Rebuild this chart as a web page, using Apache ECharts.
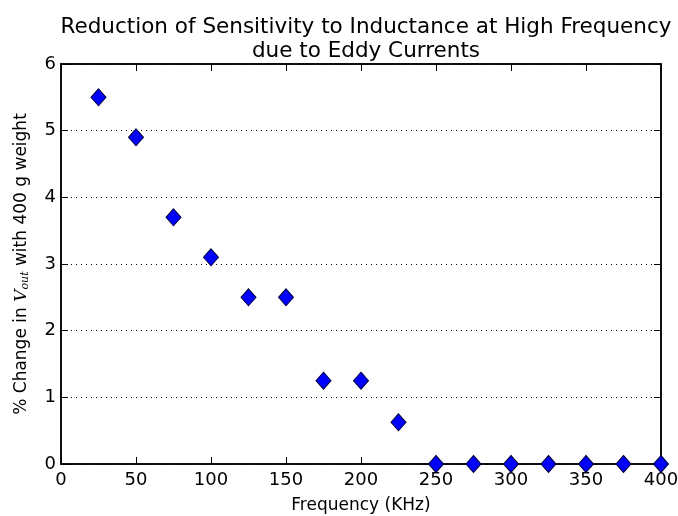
<!DOCTYPE html>
<html>
<head>
<meta charset="utf-8">
<script src="https://cdn.jsdelivr.net/npm/echarts@6/dist/echarts.min.js"></script>
<style>
  html, body { margin: 0; padding: 0; background: #fff; }
  #main { width: 678px; height: 516px; }
</style>
</head>
<body>
<div id="main"></div>
<script>
// data
var freq = [25, 50, 75, 100, 125, 150, 175, 200, 225, 250, 275, 300, 325, 350, 375, 400];
var change = [5.5, 4.9, 3.7, 3.1, 2.5, 2.5, 1.25, 1.25, 0.625, 0, 0, 0, 0, 0, 0, 0];

var font = 'DejaVu Sans';
var chart = echarts.init(document.getElementById('main'));

var points = freq.map(function (f, i) { return [f, change[i]]; });

function tick() {
  return { show: true, inside: true, length: 7, lineStyle: { color: '#000', width: 1 } };
}

var option = {
  backgroundColor: '#fff',
  animation: false,
  textStyle: { fontFamily: font },
  title: {
    text: 'Reduction of Sensitivity to Inductance at High Frequency\ndue to Eddy Currents',
    left: 361,
    top: 10,
    textAlign: 'center',
    textStyle: { fontFamily: font, fontSize: 21.5, fontWeight: 'normal', color: '#000', lineHeight: 24 }
  },
  grid: {
    left: 61, right: 17, top: 64, bottom: 52,
    outerBoundsMode: 'none',
    containLabel: false,
    show: true, borderColor: '#000', borderWidth: 1.5, backgroundColor: 'transparent'
  },
  xAxis: [{
    type: 'value',
    min: 0, max: 400, interval: 50,
    name: 'Frequency (KHz)',
    nameLocation: 'middle',
    nameGap: 33,
    nameTextStyle: { fontFamily: font, fontSize: 17, color: '#000' },
    axisLine: { lineStyle: { color: '#000', width: 1.5 } },
    axisTick: tick(),
    axisLabel: { fontFamily: font, fontSize: 18, color: '#000', margin: 7 },
    splitLine: { show: false }
  }, {
    type: 'value',
    position: 'top',
    min: 0, max: 400, interval: 50,
    axisLine: { show: true, onZero: false, lineStyle: { color: '#000', width: 1.5 } },
    axisTick: tick(),
    axisLabel: { show: false },
    splitLine: { show: false }
  }],
  yAxis: [{
    type: 'value',
    min: 0, max: 6, interval: 1,
    name: '{a|% Change in }{v|V}{s|out}{a| with 400 g weight}',
    nameLocation: 'middle',
    nameRotate: 90,
    nameGap: 30,
    nameTextStyle: {
      color: '#000',
      rich: {
        a: { fontFamily: font, fontSize: 17, color: '#000' },
        v: { fontFamily: 'DejaVu Serif', fontStyle: 'italic', fontSize: 17, color: '#000' },
        s: { fontFamily: 'DejaVu Serif', fontStyle: 'italic', fontSize: 11, color: '#000', verticalAlign: 'bottom', padding: [7, 0, 0, 0] }
      }
    },
    axisLine: { show: true, lineStyle: { color: '#000', width: 1.5 } },
    axisTick: tick(),
    axisLabel: { fontFamily: font, fontSize: 18, color: '#000', margin: 5 },
    splitLine: { show: true, lineStyle: { color: '#000', type: [1, 4], width: 1 } }
  }, {
    type: 'value',
    position: 'right',
    min: 0, max: 6, interval: 1,
    axisLine: { show: true, onZero: false, lineStyle: { color: '#000', width: 1.5 } },
    axisTick: tick(),
    axisLabel: { show: false },
    splitLine: { show: false }
  }],
  series: [{
    type: 'scatter',
    data: points,
    clip: false,
    symbol: 'diamond',
    symbolSize: [15, 17],
    z: 5,
    itemStyle: { color: '#0000ff', opacity: 1, borderColor: '#000040', borderWidth: 1 }
  }, {
    // empty series so the top and right axes are drawn
    type: 'scatter',
    xAxisIndex: 1,
    yAxisIndex: 1,
    data: [],
    silent: true
  }]
};

chart.setOption(option);
</script>
</body>
</html>
